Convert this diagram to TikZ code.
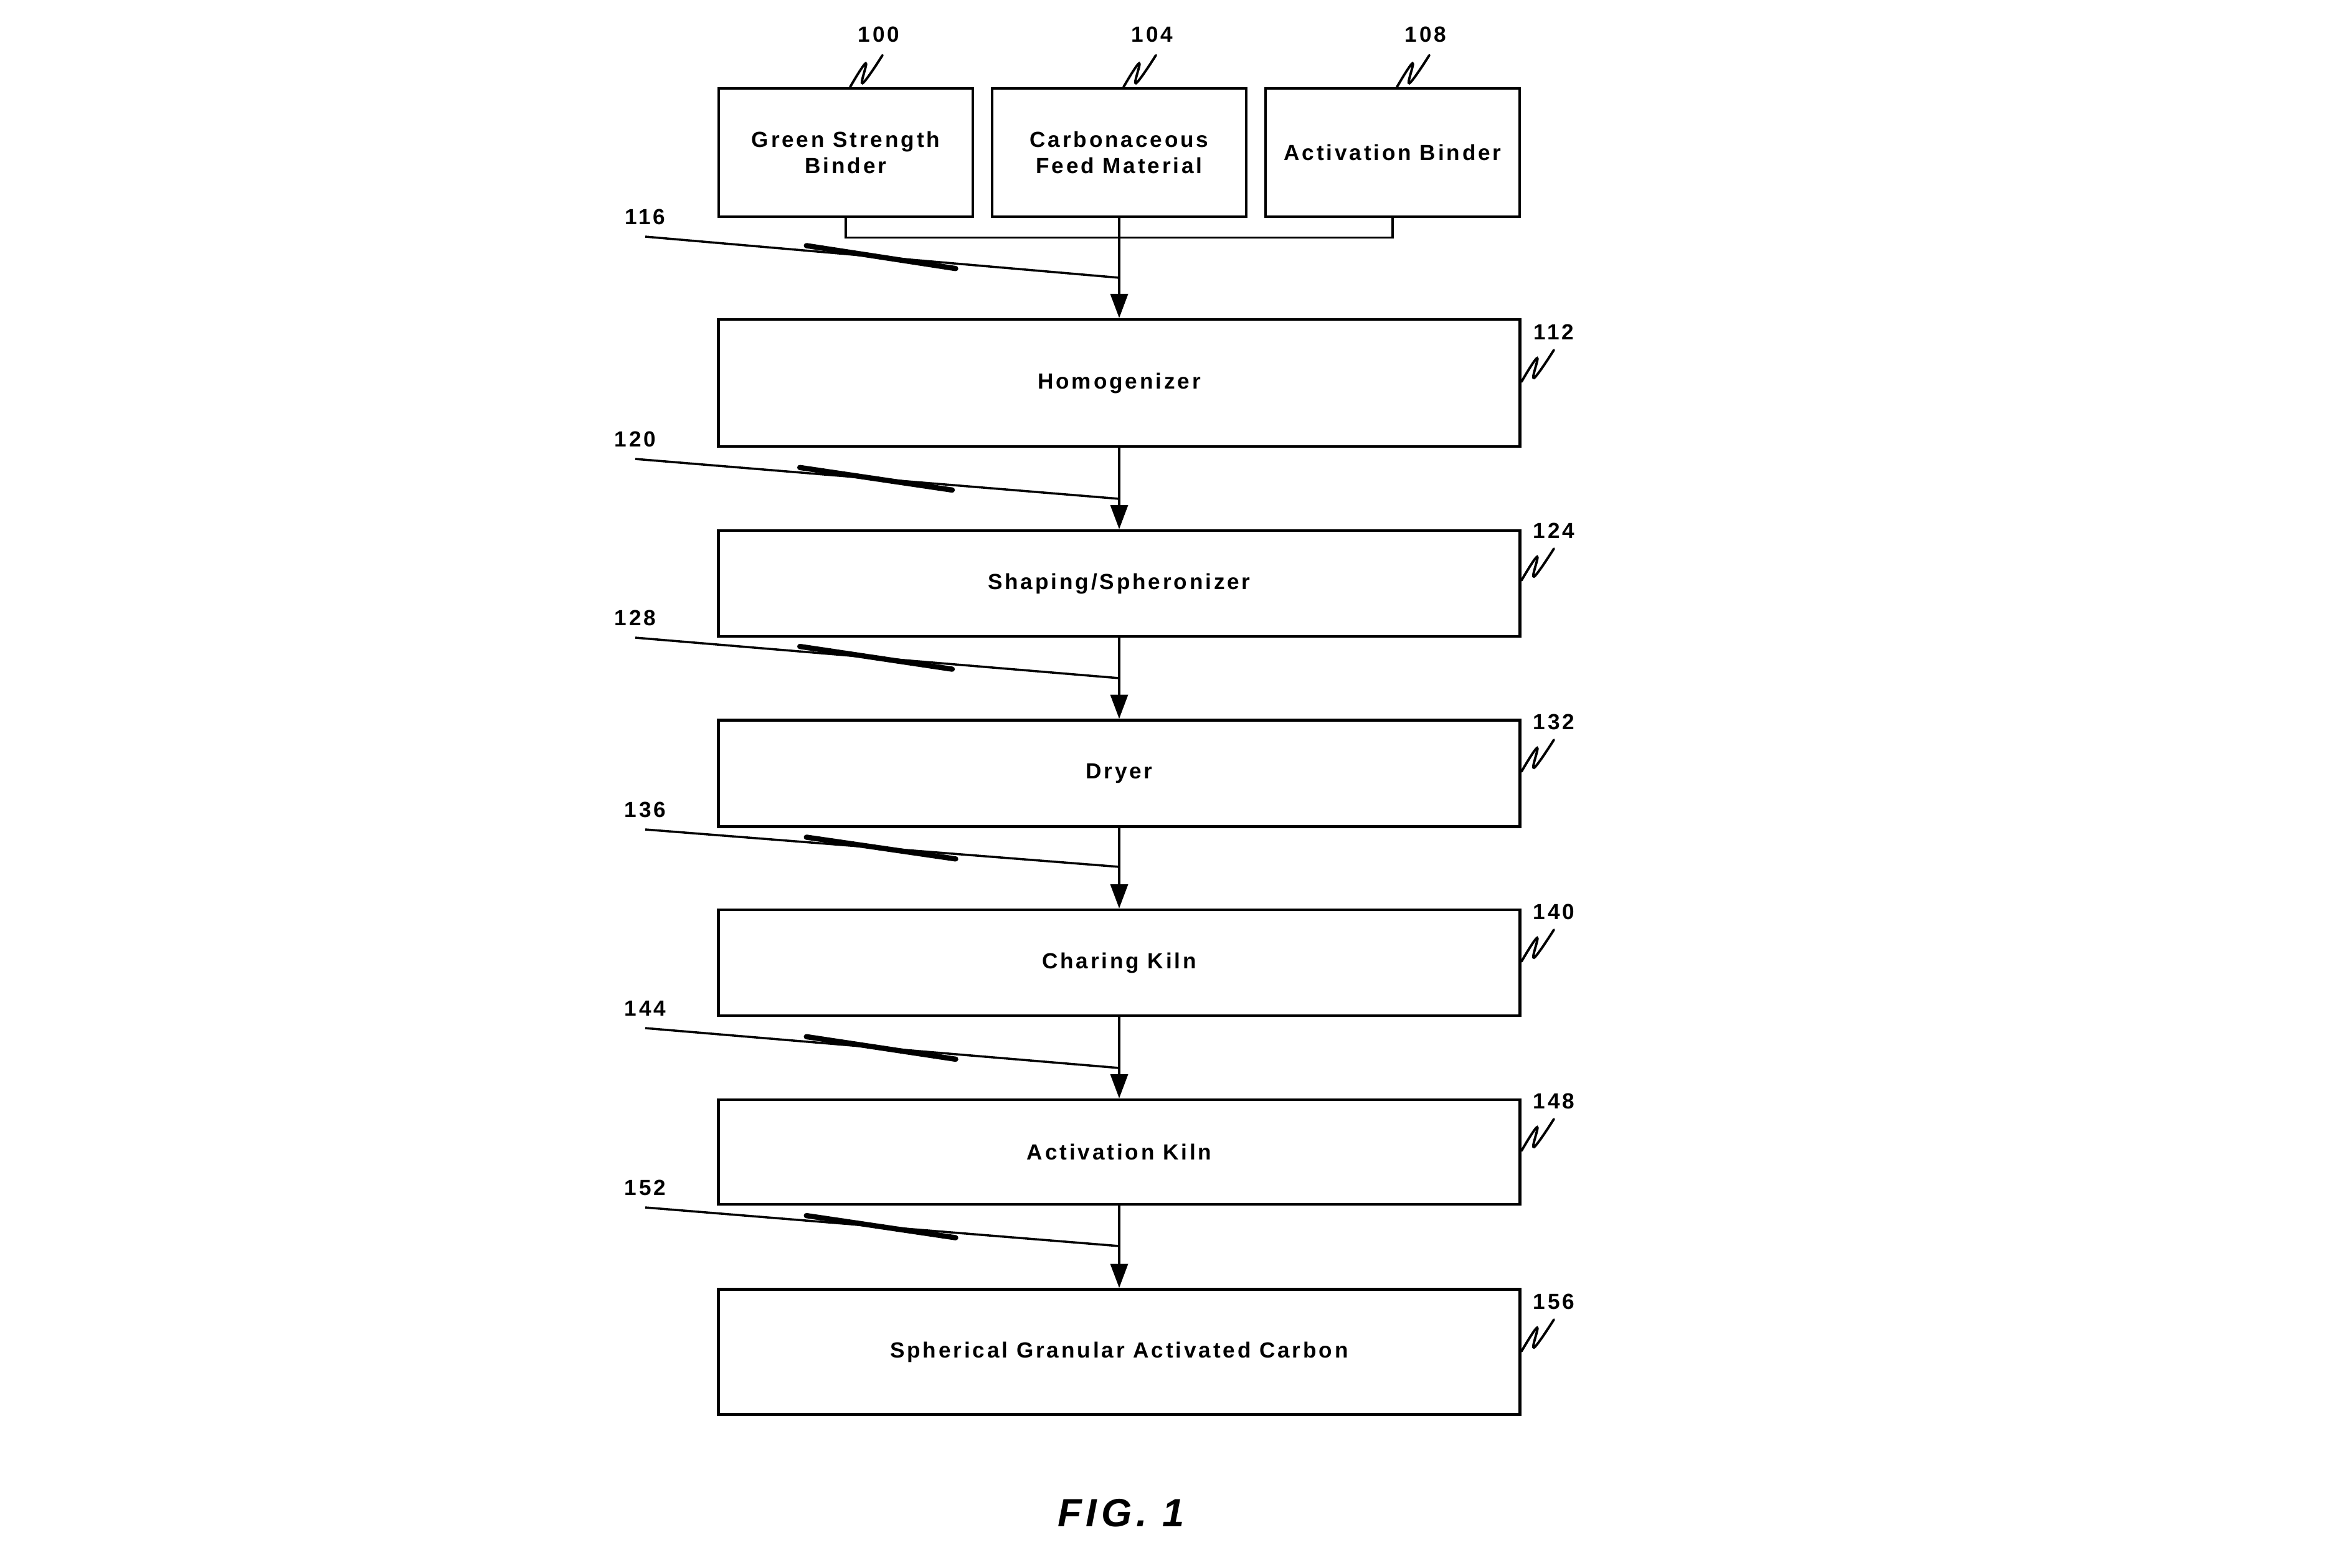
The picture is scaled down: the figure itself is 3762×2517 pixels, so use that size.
\documentclass[tikz,border=0pt]{standalone}
\usepackage{fontspec}
\setmainfont{Liberation Sans}[LetterSpace=11]
\usetikzlibrary{arrows.meta,calc}
\tikzset{squig/.pic={\draw[line width=1.1pt,line cap=round] plot[smooth,tension=0.7] coordinates {(0,0) (25,-38) (20,-6) (52,-51)};}}
\begin{document}
\begin{tikzpicture}[x=0.01cm,y=-0.01cm,
	box/.style={draw,line width=1.3pt,inner sep=0pt,align=center,font=\bfseries},
	feedbox/.style={box,minimum width=4.08cm,minimum height=2.06cm},
	unitbox/.style={box,minimum width=12.86cm},
	num/.style={font=\bfseries,inner sep=0pt},
	flow/.style={line width=0.9pt,-{Triangle[length=11pt,width=8pt]}},
	lead/.style={line width=1pt}]
	\useasboundingbox (0,0) rectangle (3762,2517);
	% feed boxes
	\node[feedbox] (green) at (1358,245) {Green Strength\\Binder};
	\node[feedbox] (feed) at (1797,245) {Carbonaceous\\Feed Material};
	\node[feedbox] (actb) at (2236,245) {Activation Binder};
	% process units
	\node[unitbox,minimum height=2.04cm] (homog) at (1797,615) {Homogenizer};
	\node[unitbox,minimum height=1.70cm] (shaper) at (1797,937) {Shaping/Spheronizer};
	\node[unitbox,minimum height=1.71cm] (dryer) at (1797,1242) {Dryer};
	\node[unitbox,minimum height=1.70cm] (charkiln) at (1797,1546) {Charing Kiln};
	\node[unitbox,minimum height=1.68cm] (actkiln) at (1797,1850) {Activation Kiln};
	\node[unitbox,minimum height=2.01cm] (sgac) at (1797,2171) {Spherical Granular Activated Carbon};
	% connectors
	\draw[lead] (green.south) -- ++(0,31) -| (actb.south);
	\draw[flow] (feed.south) -- (homog.north);
	\draw[flow] (homog.south) -- (shaper.north);
	\draw[flow] (shaper.south) -- (dryer.north);
	\draw[flow] (dryer.south) -- (charkiln.north);
	\draw[flow] (charkiln.south) -- (actkiln.north);
	\draw[flow] (actkiln.south) -- (sgac.north);
	% stream leaders
	\foreach \n/\lx/\ly/\ty in {116/1036/380/446, 120/1020/737/801, 128/1020/1024/1089, 136/1036/1332/1392, 144/1036/1651/1715, 152/1036/1939/2001}{
		\node[num] (n\n) at (\lx,\ly-32) {\n};
		\coordinate (s\n) at (\lx,\ly);
		\coordinate (e\n) at (1797,\ty);
		\draw[lead] (s\n) -- (e\n);
		\draw[line width=2.4pt,line cap=round] ($(s\n)!0.34!(e\n)+(0,-8)$) -- ($(s\n)!0.655!(e\n)+(0,8)$);
	}
	% unit numbers
	\foreach \n/\ny in {112/533, 124/852, 132/1159, 140/1464, 148/1768, 156/2090}{
		\node[num] (n\n) at (2495,\ny) {\n};
		\pic at (2443,\ny+80) {squig};
	}
	\foreach \n/\b in {100/green, 104/feed, 108/actb}{
		\node[num] (n\n) at ($(\b.north)+(53,-84)$) {\n};
		\pic at ($(\b.north)+(7,0)$) {squig};
	}
	\node[font=\bfseries\itshape\fontsize{18}{22}\selectfont] (fig) at (1800,2430) {FIG. 1};
\end{tikzpicture}
\end{document}
